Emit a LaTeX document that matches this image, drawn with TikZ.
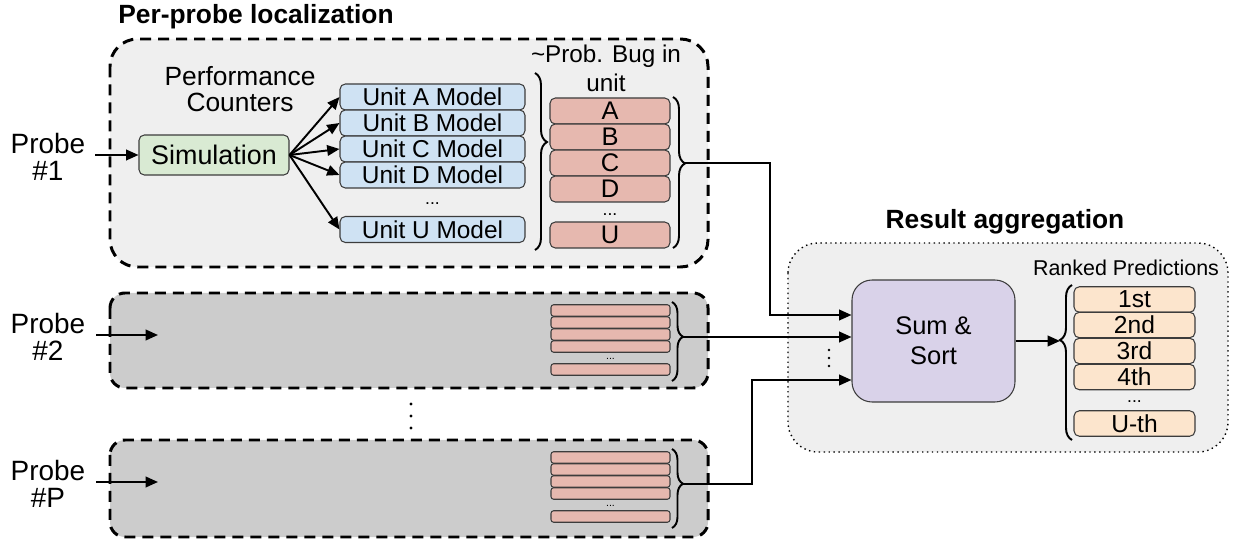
\documentclass[tikz,border=0pt]{standalone}
\usepackage{fontspec}
\setmainfont{Liberation Sans}
\usetikzlibrary{arrows.meta,decorations.pathreplacing}

\definecolor{bglight}{RGB}{239,239,239}
\definecolor{bgdark}{RGB}{204,204,204}
\definecolor{simgreen}{RGB}{217,234,211}
\definecolor{unitblue}{RGB}{207,226,243}
\definecolor{bugred}{RGB}{230,184,175}
\definecolor{sortpurple}{RGB}{217,210,233}
\definecolor{rankorange}{RGB}{252,229,205}
\definecolor{edgegray}{RGB}{60,60,60}

\tikzset{
  cell/.style={draw=edgegray, line width=0.6pt, rounded corners=3pt, inner sep=0pt},
  simcell/.style={cell, fill=simgreen, minimum width=3cm, minimum height=0.8cm, font=\fontsize{15.3}{16}\selectfont},
  unitcell/.style={cell, fill=unitblue, minimum width=3.7cm, minimum height=0.52cm, font=\fontsize{13.9}{14}\selectfont},
  bugcell/.style={cell, fill=bugred, minimum width=2.4cm, minimum height=0.52cm, font=\fontsize{14.5}{14}\selectfont},
  barcell/.style={cell, fill=bugred, minimum width=2.38cm, minimum height=0.23cm, rounded corners=1.5pt},
  rankcell/.style={cell, fill=rankorange, minimum width=2.42cm, minimum height=0.51cm, font=\fontsize{14}{14}\selectfont},
  sumcell/.style={cell, fill=sortpurple, minimum width=3.26cm, minimum height=2.44cm, rounded corners=0.4cm, align=center, font=\fontsize{14.5}{17}\selectfont},
  probebox/.style={draw, line width=1.7pt, dash pattern=on 0.22cm off 0.14cm},
  title/.style={font=\fontsize{15}{16}\selectfont\bfseries},
  probelabel/.style={align=center, font=\fontsize{15.9}{15}\selectfont},
  textlabel/.style={align=center, font=\fontsize{15}{14.5}\selectfont},
  smalldots/.style={inner sep=0pt, text height=2pt, text depth=0pt, font=\fontsize{10}{10}\selectfont},
  arr/.style={-{Triangle[length=7pt,width=6pt]}, line width=1.1pt},
  curly/.style={decorate, decoration={brace, amplitude=0.24cm, aspect=#1}, line width=1.1pt},
  curlysmall/.style={decorate, decoration={brace, amplitude=0.22cm, aspect=#1}, line width=1.1pt}
}

\begin{document}
\begin{tikzpicture}[x=0.02cm, y=-0.02cm]
\useasboundingbox (0,0) rectangle (1241,540);

% Per-probe frames
\draw[probebox, fill=bglight, rounded corners=0.55cm] (110,39) rectangle (708,267);
\draw[probebox, fill=bgdark, rounded corners=0.3cm] (110,293) rectangle (708,388);
\draw[probebox, fill=bgdark, rounded corners=0.3cm] (110,440) rectangle (708,537);

% Aggregation frame
\draw[line width=0.8pt, dotted, fill=bglight, rounded corners=0.6cm] (788,243) rectangle (1228,452);

% Titles
\node[title] (ttlprobe) at (256,17) {Per-probe localization};
\node[title] (ttlagg) at (1005,222) {Result aggregation};

% Probe #1 in detail
\node[probelabel] (lbl1) at (48,157) {Probe\\\#1};
\coordinate (in1) at (95,155);
\node[simcell] (sim) at (214,155) {Simulation};
\node[textlabel] (perf) at (240,89) {Performance\\Counters};
\draw[arr] (in1) -- (sim);

\foreach \n/\y/\t in {ua/97/A, ub/123/B, uc/149/C, ud/175/D, uu/229.5/U} {
  \node[unitcell] (\n) at (432.5,\y) {Unit \t\ Model};
  \draw[arr] (sim.east) -- (\n.west);
}
\node[smalldots] (udots) at (432.5,203) {...};

\node[textlabel, font=\fontsize{13.8}{16.5}\selectfont] (bughead) at (606,68) {\textasciitilde Prob. Bug in\\unit};
\foreach \n/\y/\t in {ba/111/A, bb/137/B, bc/163/C, bd/189/D, bu/235/U} {
  \node[bugcell] (\n) at (610,\y) {\t};
}
\node[smalldots] (bdots) at (610,214) {...};

\draw[curly=0.39] (535,73) -- (535,250);
\draw[curly=0.44] (673,97) -- (673,248);
\coordinate (t1) at (685,163);

% Probes #2 and #P, collapsed
\foreach \k/\top in {2/293, P/440} {
  \node[probelabel] (lbl\k) at (48,\top+44) {Probe\\\#\k};
  \coordinate (in\k) at (96,\top+42);
  \coordinate (out\k) at (158,\top+42);
  \draw[arr] (in\k) -- (out\k);
  \foreach \i/\dy in {1/17.5, 2/29.5, 3/41.5, 4/53.5, 5/76.5} {
    \node[barcell] (bar\k\i) at (610.5,\top+\dy) {};
  }
  \node[smalldots, font=\fontsize{6}{6}\selectfont] (bardots\k) at (610.5,\top+65) {...};
  \draw[curlysmall=0.44] (672,\top+9) -- (672,\top+88);
  \coordinate (t\k) at (683,\top+44);
}

% Vertical dots between probes
\foreach \y in {404,416,428} {
  \fill (411,\y) circle (0.9pt);
}

% Aggregation
\node[sumcell] (sum) at (933.5,341) {Sum \&\\Sort};
\coordinate (j1) at (770,315);
\coordinate (jP) at (752,380);
\draw[arr] (t1) -| (j1) -- (j1 -| sum.west);
\draw[arr] (t2) -- (t2 -| sum.west);
\draw[arr] (tP) -| (jP) -- (jP -| sum.west);
\foreach \y in {350,358,366} {
  \fill (829,\y) circle (0.8pt);
}

\node[font=\fontsize{12.2}{13}\selectfont] (rankhead) at (1126,268) {Ranked Predictions};
\foreach \n/\y/\t in {ra/299.5/1st, rb/325/2nd, rc/351/3rd, rd/377/4th, ru/423.5/U-th} {
  \node[rankcell] (\n) at (1134.5,\y) {\t};
}
\node[smalldots] (rdots) at (1134.5,401) {...};
\draw[curly=0.645] (1072,440) -- (1072,285);
\coordinate (t4) at (1060,341);
\draw[arr] (sum.east) -- (t4);

\end{tikzpicture}
\end{document}
